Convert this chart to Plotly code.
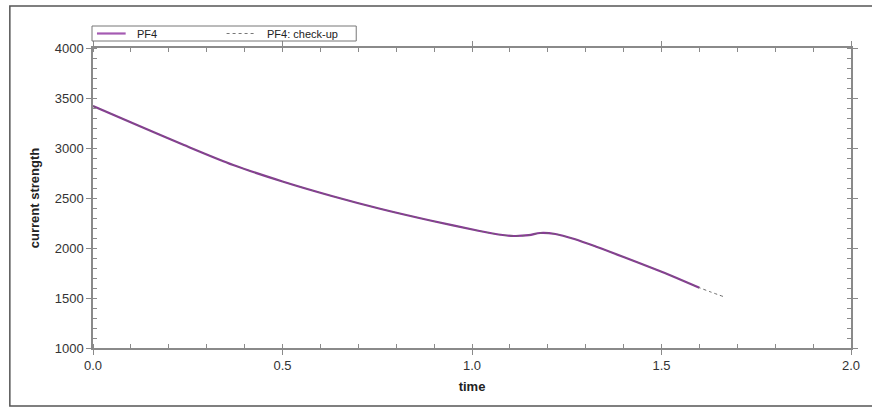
import plotly.graph_objects as go

# data
time_pf4 = [0.0, 0.11, 0.24, 0.37, 0.50, 0.63, 0.76, 0.89, 1.02, 1.07, 1.11,
            1.15, 1.18, 1.22, 1.27, 1.33, 1.40, 1.48, 1.54, 1.60]
current_pf4 = [3420, 3240, 3030, 2830, 2665, 2520, 2390, 2275, 2170, 2135, 2120,
               2128, 2150, 2140, 2090, 2010, 1910, 1793, 1700, 1603]
time_check = time_pf4 + [1.63, 1.665]
current_check = current_pf4 + [1560, 1512]

x_ticks = [0.0, 0.5, 1.0, 1.5, 2.0]
y_ticks = [1000, 1500, 2000, 2500, 3000, 3500, 4000]
series_names = ["PF4", "PF4: check-up"]
series_colors = ["#8a3898", "#6a6a6a"]

FONT = "Liberation Sans, Arial, sans-serif"
AX = "#8a8a8a"

fig = go.Figure()
fig.add_trace(go.Scatter(x=time_pf4, y=current_pf4, name=series_names[0], mode="lines",
                         showlegend=False,
                         line=dict(color=series_colors[0], width=2.2, shape="spline", smoothing=0.8)))
fig.add_trace(go.Scatter(x=time_check, y=current_check, name=series_names[1], mode="lines",
                         showlegend=False,
                         line=dict(color=series_colors[1], width=1, dash="dot", shape="spline", smoothing=0.8)))

axis_common = dict(showgrid=False, zeroline=False, showline=True, linecolor=AX, linewidth=1.5,
                   mirror="allticks", ticks="outside", ticklen=5, tickcolor=AX, tickwidth=1,
                   tickfont=dict(family=FONT, size=13, color="#333333"))

fig.update_xaxes(range=[0, 2], tickvals=x_ticks, ticktext=[f"{v:.1f}" for v in x_ticks],
                 minor=dict(dtick=0.1, tick0=0, ticks="inside", ticklen=4, tickcolor=AX, tickwidth=1),
                 title=dict(text="<b>time</b>", font=dict(family=FONT, size=13, color="#222"), standoff=10),
                 **axis_common)
fig.update_yaxes(range=[1000, 4000], tickvals=y_ticks, ticktext=[str(v) for v in y_ticks],
                 minor=dict(dtick=100, tick0=0, ticks="inside", ticklen=4, tickcolor=AX, tickwidth=1),
                 title=dict(text="<b>current strength</b>", font=dict(family=FONT, size=13, color="#222"), standoff=12),
                 **axis_common)

# outer frame (right edge runs off the image)
fig.add_shape(type="rect", xref="paper", yref="paper",
              x0=-0.1097, x1=1.06, y0=-0.1933, y1=1.14,
              line=dict(color="#555555", width=1.5), layer="below")

# legend box drawn in pixel-like paper coordinates
W, L = 766.0, 93.0
H, B = 300.0, 348.0
def px(x):
    return (x - L) / W
def py(y):
    return (B - y) / H

fig.add_shape(type="rect", xref="paper", yref="paper",
              x0=px(92), x1=px(359), y0=py(41), y1=py(26),
              line=dict(color="#777777", width=1), fillcolor="white")
fig.add_shape(type="line", xref="paper", yref="paper",
              x0=px(97), x1=px(126), y0=py(33.5), y1=py(33.5),
              line=dict(color="#a45ab2", width=2.2))
fig.add_shape(type="line", xref="paper", yref="paper",
              x0=px(228), x1=px(258), y0=py(33.5), y1=py(33.5),
              line=dict(color="#777777", width=1, dash="dot"))
fig.add_annotation(xref="paper", yref="paper", x=px(135), y=py(33.5), xanchor="left", yanchor="middle",
                   text=series_names[0], showarrow=False, font=dict(family=FONT, size=11, color="#222"))
fig.add_annotation(xref="paper", yref="paper", x=px(267), y=py(33.5), xanchor="left", yanchor="middle",
                   text=series_names[1], showarrow=False, font=dict(family=FONT, size=11, color="#222"))

fig.update_layout(
    width=872, height=410,
    margin=dict(l=93, r=13, t=48, b=62),
    paper_bgcolor="white", plot_bgcolor="white",
    font=dict(family=FONT, size=11, color="#222"),
    showlegend=False,
)

fig.write_html("out.html")
